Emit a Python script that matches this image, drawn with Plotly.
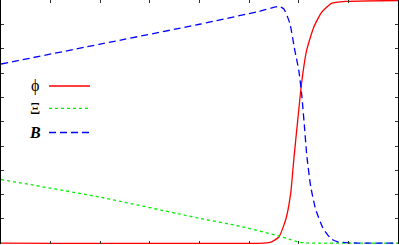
import plotly.graph_objects as go

# ---- data ----
phi_x = [0, 5.3, 5.44, 5.6, 5.74, 5.84, 5.9, 5.98, 6.06, 6.16, 6.3, 6.46, 6.66, 6.94, 8]
phi_y = [0, 0, 0.004, 0.025, 0.098, 0.209, 0.344, 0.508, 0.664, 0.795, 0.889, 0.951, 0.988, 0.996, 1.0]

xi_x = [0, 2, 4, 4.8, 5.6, 5.8, 6.0, 6.2, 8]
xi_y = [0.262, 0.189, 0.102, 0.070, 0.029, 0.016, 0.004, 0.0, 0.0]

b_x = [0, 2, 4, 5.2, 5.6, 5.7, 5.82, 5.92, 6.0, 6.06, 6.12, 6.16, 6.24, 6.34, 6.5, 6.66, 6.8, 7.2, 8]
b_y = [0.738, 0.820, 0.902, 0.955, 0.975, 0.965, 0.906, 0.795, 0.713, 0.611, 0.467, 0.365, 0.234,
       0.139, 0.057, 0.016, 0.004, 0.0, 0.0]

labels = ["ϕ", "Ξ", "<b><i>B</i></b>"]
colors = ["#ff0000", "#00ee00", "#0000ff"]
dashes = ["solid", "dot", "7px,4px"]

W, H = 399, 245
ML, MR, MT, MB = 1, 1, 0, 1
PW, PH = W - ML - MR, H - MT - MB
Y0, Y1 = -0.004, 1.002


def px(x):
    return (x - ML) / PW


def py(y):
    return (H - MB - y) / PH


fig = go.Figure()
series = [(phi_x, phi_y), (xi_x, xi_y), (b_x, b_y)]
for (xs, ys), c, d, name in zip(series, colors, dashes, labels):
    fig.add_trace(go.Scatter(x=xs, y=ys, mode="lines", name=name,
                             line=dict(color=c, width=1.3, dash=d, shape="spline", smoothing=0.5),
                             showlegend=False, hoverinfo="skip"))

# legend (gnuplot style: label then sample)
leg_y = [86, 108.3, 132.5]
for lab, c, d, yy in zip(labels, colors, dashes, leg_y):
    fig.add_annotation(x=px(35), y=py(yy), xref="paper", yref="paper", text=lab, showarrow=False,
                       xanchor="center", yanchor="middle",
                       font=dict(family="Liberation Serif", size=16, color="black"))
    fig.add_shape(type="line", xref="paper", yref="paper", x0=px(49), x1=px(90), y0=py(yy), y1=py(yy),
                  line=dict(color=c, width=1.3, dash=d))

fig.update_xaxes(range=[0, 8], dtick=1, tick0=0, ticks="inside", ticklen=3, tickwidth=1,
                 tickcolor="#333", showticklabels=False, showgrid=False, zeroline=False,
                 showline=False, mirror="ticks")
fig.update_yaxes(range=[Y0, Y1], dtick=0.1, tick0=0, ticks="inside", ticklen=3, tickwidth=1,
                 tickcolor="#333", showticklabels=False, showgrid=False, zeroline=False,
                 showline=True, linecolor="black", linewidth=1.5, mirror="ticks")

fig.update_layout(width=W, height=H, margin=dict(l=ML, r=MR, t=MT, b=MB, pad=0),
                  paper_bgcolor="white", plot_bgcolor="white")

fig.write_html("out.html", config={"displayModeBar": False, "staticPlot": True})

# remove the browser's default body margin so the figure sits at the page origin
with open("out.html", "r", encoding="utf-8") as f:
    html = f.read()
html = html.replace("<head>", "<head><style>html,body{margin:0;padding:0;overflow:hidden;}</style>", 1)
with open("out.html", "w", encoding="utf-8") as f:
    f.write(html)
